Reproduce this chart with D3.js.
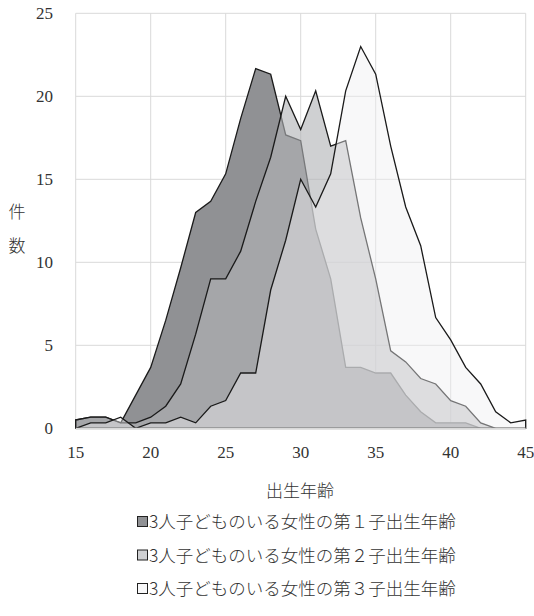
<!DOCTYPE html>
<html>
<head>
<meta charset="utf-8">
<script src="https://cdn.jsdelivr.net/npm/d3@7"></script>
<style>
  html, body { margin: 0; padding: 0; background: #fff; }
  svg { display: block; }
</style>
</head>
<body>
<svg id="chart" width="534" height="616"></svg>
<script>
const ages = [15,16,17,18,19,20,21,22,23,24,25,26,27,28,29,30,31,32,33,34,35,36,37,38,39,40,41,42,43,44,45];
const firstChild  = [0.5,0.67,0.67,0.33,2,3.67,6.5,9.67,13,13.67,15.33,18.67,21.67,21.33,17.67,17.33,12,9,3.67,3.67,3.33,3.33,2,1,0.33,0.33,0.33,0,0,0,0];
const secondChild = [0.5,0.67,0.67,0.33,0.33,0.67,1.33,2.67,5.67,9,9,10.67,13.67,16.33,20,18,20.33,17,17.33,12.67,9,4.67,4,3,2.67,1.67,1.33,0.33,0,0,0];
const thirdChild  = [0,0.33,0.33,0.67,0,0.33,0.33,0.67,0.33,1.33,1.67,3.33,3.33,8.33,11.33,15,13.33,15.33,20.33,23,21.33,17,13.33,11,6.67,5.33,3.67,2.67,1,0.33,0.5];
const seriesNames = ["3人子どものいる女性の第１子出生年齢","3人子どものいる女性の第２子出生年齢","3人子どものいる女性の第３子出生年齢"];
const xTicks = [15,20,25,30,35,40,45];
const yTicks = [0,5,10,15,20,25];
const xTitle = "出生年齢";
const yTitle = ["件","数"];

const styles = [
  {fill: "rgb(144,145,148)", opacity: 1},
  {fill: "rgb(178,179,182)", opacity: 0.62},
  {fill: "rgb(238,238,240)", opacity: 0.43}
];
const seriesData = [firstChild, secondChild, thirdChild];

const svg = d3.select("#chart");
const x = d3.scaleLinear().domain([15,45]).range([75.7,525.7]);
const y = d3.scaleLinear().domain([0,25]).range([428.3,13.3]);

const serif = "'Liberation Serif','DejaVu Serif',serif";
const cjk = "'Noto Sans CJK JP','Noto Sans CJK SC',sans-serif";
const textColor = "#333";

// grid
const grid = svg.append("g");
grid.selectAll("line.h").data(yTicks.filter(d=>d>0)).join("line")
  .attr("x1", x(15)).attr("x2", x(45))
  .attr("y1", d=>y(d)).attr("y2", d=>y(d))
  .attr("stroke", "#d9d9d9").attr("stroke-width", 1);
grid.selectAll("line.v").data(xTicks).join("line")
  .attr("x1", d=>x(d)).attr("x2", d=>x(d))
  .attr("y1", y(0)).attr("y2", y(25))
  .attr("stroke", "#d9d9d9").attr("stroke-width", 1);

// areas
const area = d3.area().x((d,i)=>x(ages[i])).y0(y(0)).y1(d=>y(d));
seriesData.forEach((s,k)=>{
  svg.append("path").attr("d", area(s) + "Z")
    .attr("fill", styles[k].fill).attr("fill-opacity", styles[k].opacity)
    .attr("stroke", "#1a1a1a").attr("stroke-width", 1.3).attr("stroke-linejoin", "miter");
});

// x axis line
svg.append("line").attr("x1", x(15)).attr("x2", x(45)).attr("y1", y(0)+0.5).attr("y2", y(0)+0.5)
  .attr("stroke", "#d9d9d9").attr("stroke-width", 2);

// tick labels
svg.append("g").selectAll("text").data(yTicks).join("text")
  .attr("x", 53).attr("y", d=>y(d)).attr("dy", "0.35em")
  .attr("text-anchor", "end").attr("font-family", serif).attr("font-size", 17).attr("fill", textColor)
  .text(d=>d);
svg.append("g").selectAll("text").data(xTicks).join("text")
  .attr("x", d=>x(d)).attr("y", 452).attr("dy", "0.35em")
  .attr("text-anchor", "middle").attr("font-family", serif).attr("font-size", 17).attr("fill", textColor)
  .text(d=>d);

// titles
svg.append("text").attr("x", 300).attr("y", 491).attr("dy", "0.35em")
  .attr("text-anchor", "middle").attr("font-family", cjk).attr("font-weight", 300).attr("font-size", 17).attr("fill", textColor)
  .text(xTitle);
svg.append("g").selectAll("text").data(yTitle).join("text")
  .attr("x", 17).attr("y", (d,i)=>212 + i*34).attr("dy", "0.35em")
  .attr("text-anchor", "middle").attr("font-family", cjk).attr("font-weight", 300).attr("font-size", 17).attr("fill", textColor)
  .text(d=>d);

// legend
const leg = svg.append("g");
seriesNames.forEach((name,k)=>{
  const cy = 522 + k*33.5;
  leg.append("rect").attr("x", 137.5).attr("y", cy-5.5).attr("width", 10).attr("height", 10)
    .attr("fill", "#fff").attr("stroke", "none");
  leg.append("rect").attr("x", 137.5).attr("y", cy-5.5).attr("width", 10).attr("height", 10)
    .attr("fill", styles[k].fill).attr("fill-opacity", styles[k].opacity)
    .attr("stroke", "#222").attr("stroke-width", 1);
  leg.append("text").attr("x", 149).attr("y", cy).attr("dy", "0.36em")
    .attr("font-family", cjk).attr("font-weight", 300).attr("font-size", 17.5).attr("fill", textColor)
    .text(name);
});
</script>
</body>
</html>
